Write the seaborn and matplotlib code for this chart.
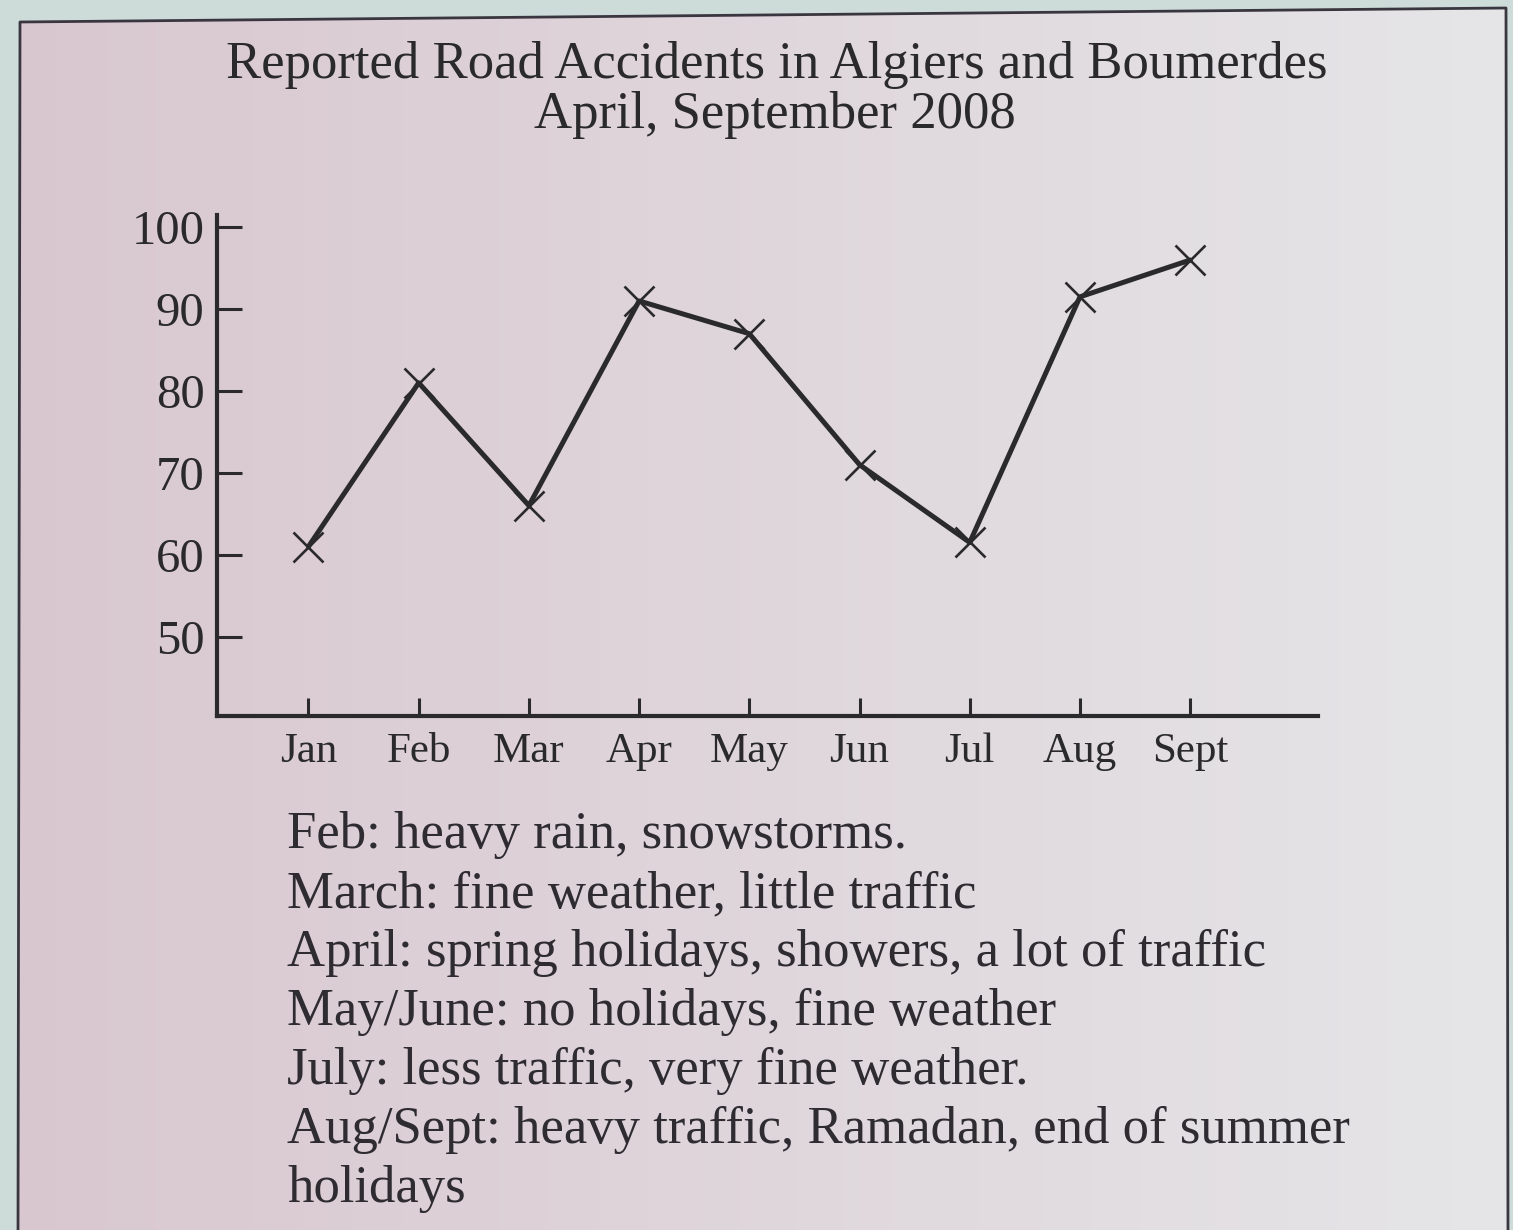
import numpy as np
import pandas as pd
import matplotlib
matplotlib.use("Agg")
import matplotlib.pyplot as plt
from matplotlib.patches import Polygon
import seaborn as sns

# Monthly reported road accidents, Algiers and Boumerdes, 2008
months = ["Jan", "Feb", "Mar", "Apr", "May", "Jun", "Jul", "Aug", "Sept"]
accidents = [61, 81, 66, 91, 87, 71, 61.5, 91.5, 96]
y_ticks = [50, 60, 70, 80, 90, 100]

title_lines = ["Reported Road Accidents in Algiers and Boumerdes",
               "April, September 2008"]
notes = [
    "Feb: heavy rain, snowstorms.",
    "March: fine weather, little traffic",
    "April: spring holidays, showers, a lot of traffic",
    "May/June: no holidays, fine weather",
    "July: less traffic, very fine weather.",
    "Aug/Sept: heavy traffic, Ramadan, end of summer",
    "holidays",
]

sns.set_theme(style="white")
plt.rcParams["font.family"] = ["Liberation Serif", "DejaVu Serif"]

ink = "#2a2a2c"
W, H = 1513, 1230
fig = plt.figure(figsize=(W / 100, H / 100), dpi=100)
fig.patch.set_facecolor("#cddcd9")

# Paper sheet with a soft pink-to-grey tint across it
bg = fig.add_axes([0, 0, 1, 1], zorder=0)
bg.set_xlim(0, W)
bg.set_ylim(H, 0)
bg.axis("off")
left_c = np.array([0.85, 0.78, 0.81])
right_c = np.array([0.90, 0.90, 0.91])
t = np.linspace(0, 1, 256)[None, :, None]
grad = left_c * (1 - t) + right_c * t
grad = np.repeat(grad, 4, axis=0)
sheet = [(20, 22), (1506, 8), (1508, H + 5), (18, H + 5)]
im = bg.imshow(grad, extent=(0, W, H, 0), aspect="auto", interpolation="bilinear")
clip = Polygon(sheet, closed=True, transform=bg.transData, facecolor="none")
bg.add_patch(clip)
im.set_clip_path(clip)
bg.plot([18, 20, 1506, 1508], [H + 5, 22, 8, H + 5], color="#3a3640", lw=2.0)

# Chart
df = pd.DataFrame({"month": months, "accidents": accidents})
ax = fig.add_axes([217 / W, 1 - 716 / H, (1318 - 217) / W, (716 - 215) / H], zorder=2)
ax.set_facecolor("none")
sns.lineplot(data=df, x="month", y="accidents", ax=ax, color=ink, lw=3.6,
             marker="x", markersize=22, markeredgewidth=1.9,
             markeredgecolor=ink, sort=False)

ax.set_xlim(-0.83, 9.16)
ax.set_ylim(40.3, 101.5)
ax.set_yticks(y_ticks)
ax.set_xticks(range(len(months)))
ax.set_xticklabels(months)
ax.set_xlabel("")
ax.set_ylabel("")
for side in ("top", "right"):
    ax.spines[side].set_visible(False)
for side in ("left", "bottom"):
    ax.spines[side].set_color(ink)
    ax.spines[side].set_linewidth(3.0)
ax.tick_params(axis="y", direction="in", length=18, width=2.2, color=ink,
               labelsize=35, labelcolor=ink, pad=9, left=True)
ax.tick_params(axis="x", direction="in", length=13, width=2.2, color=ink,
               labelsize=31, labelcolor=ink, pad=12, bottom=True)
ax.grid(False)

# Title
fig.text(777 / W, 1 - 78 / H, title_lines[0], ha="center", va="baseline",
         fontsize=38, color=ink)
fig.text(775 / W, 1 - 128 / H, title_lines[1], ha="center", va="baseline",
         fontsize=38, color=ink)

# Notes below the chart
for i, line in enumerate(notes):
    fig.text(287 / W, 1 - (848 + 59 * i) / H, line, ha="left", va="baseline",
             fontsize=38, color="#2e2c30")

fig.savefig("out.png", dpi=100, facecolor=fig.get_facecolor())
